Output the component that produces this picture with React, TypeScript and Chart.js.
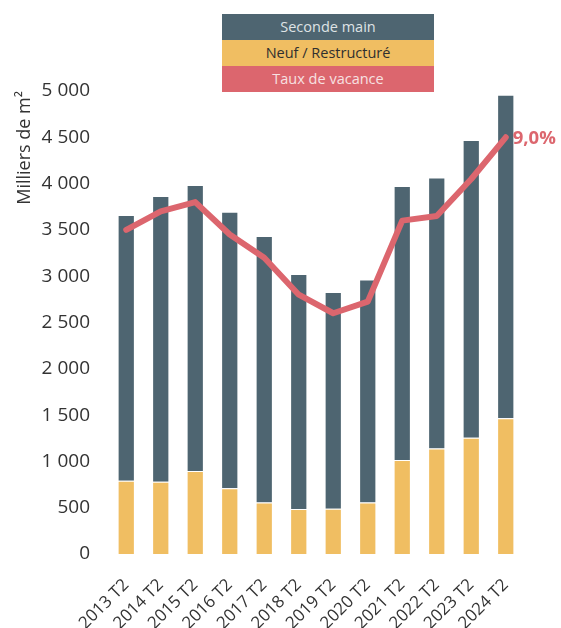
import React, { useEffect, useRef } from "react";
import { Chart, registerables } from "chart.js";

Chart.register(...registerables);

const categories = [
  "2013 T2", "2014 T2", "2015 T2", "2016 T2", "2017 T2", "2018 T2",
  "2019 T2", "2020 T2", "2021 T2", "2022 T2", "2023 T2", "2024 T2",
];
const neufRestructure = [790, 780, 895, 710, 555, 485, 490, 555, 1015, 1140, 1255, 1465];
const secondeMain = [2870, 3085, 3090, 2985, 2880, 2540, 2340, 2410, 2960, 2925, 3215, 3495];
const tauxVacance = [7.0, 7.4, 7.6, 6.9, 6.4, 5.6, 5.2, 5.45, 7.2, 7.3, 8.1, 9.0];
const yTicks = [0, 500, 1000, 1500, 2000, 2500, 3000, 3500, 4000, 4500, 5000];

const COLOR_DARK = "#4e6571";
const COLOR_YELLOW = "#f0be62";
const COLOR_RED = "#dc666e";
const FONT = "'Open Sans', sans-serif";

const formatThousands = (v: number) =>
  String(v).replace(/\B(?=(\d{3})+(?!\d))/g, " ");

const lastLabelPlugin = {
  id: "lastLabel",
  afterDatasetsDraw(chart: any) {
    const idx = chart.data.datasets.findIndex((d: any) => d.type === "line");
    if (idx < 0) return;
    const meta = chart.getDatasetMeta(idx);
    const pts = meta.data;
    const last = pts[pts.length - 1];
    const val = tauxVacance[tauxVacance.length - 1];
    const ctx = chart.ctx;
    ctx.save();
    ctx.font = `bold 18.5px ${FONT}`;
    ctx.fillStyle = COLOR_RED;
    ctx.textBaseline = "middle";
    ctx.textAlign = "left";
    ctx.fillText(val.toFixed(1).replace(".", ",") + "%", last.x + 7, last.y + 1);
    ctx.restore();
  },
};

export default function App() {
  const ref = useRef<HTMLCanvasElement | null>(null);

  useEffect(() => {
    if (!ref.current) return;
    const chart = new Chart(ref.current, {
      type: "bar",
      data: {
        labels: categories,
        datasets: [
          {
            type: "line",
            label: "Taux de vacance",
            data: tauxVacance,
            yAxisID: "y1",
            borderColor: COLOR_RED,
            backgroundColor: COLOR_RED,
            borderWidth: 6,
            pointRadius: 0,
            tension: 0,
            borderCapStyle: "round",
            borderJoinStyle: "round",
            order: 0,
          } as any,
          {
            type: "bar",
            label: "Neuf / Restructuré",
            data: neufRestructure,
            backgroundColor: COLOR_YELLOW,
            borderColor: "rgba(255,255,255,0.7)",
            borderWidth: 1,
            order: 1,
          },
          {
            type: "bar",
            label: "Seconde main",
            data: secondeMain,
            backgroundColor: COLOR_DARK,
            borderColor: "rgba(255,255,255,0.7)",
            borderWidth: 1,
            order: 1,
          },
        ],
      },
      options: {
        animation: false,
        responsive: true,
        maintainAspectRatio: false,
        layout: { padding: { top: 91, right: 38, bottom: 0, left: 0 } },
        datasets: { bar: { barPercentage: 0.5, categoryPercentage: 1 } },
        plugins: { legend: { display: false }, tooltip: { enabled: false } },
        scales: {
          x: {
            stacked: true,
            grid: { display: false, drawTicks: false },
            border: { display: false },
            afterFit: (scale: any) => {
              scale.height = 74;
              scale.paddingLeft = 0;
              scale.paddingRight = 0;
            },
            ticks: {
              color: "#333",
              font: { family: FONT, size: 17 },
              minRotation: 45,
              maxRotation: 45,
              autoSkip: false,
              padding: 21,
            },
          },
          y: {
            stacked: true,
            min: 0,
            max: 5000,
            afterBuildTicks: (scale: any) => {
              scale.ticks = yTicks.map((v) => ({ value: v }));
            },
            afterFit: (scale: any) => {
              scale.width = 109;
              scale.paddingTop = 0;
              scale.paddingBottom = 0;
            },
            grid: { display: false, drawTicks: false },
            border: { display: false },
            ticks: {
              color: "#333",
              font: { family: FONT, size: 19 },
              padding: 19,
              callback: (v: any) => formatThousands(Number(v)),
            },
            title: {
              display: true,
              text: "Milliers de m²",
              align: "end",
              color: "#333",
              font: { family: FONT, size: 18 },
              padding: { top: 14, bottom: 0 },
            },
          },
          y1: {
            display: false,
            min: 0,
            max: 10,
            stacked: false,
          },
        },
      },
      plugins: [lastLabelPlugin],
    });
    return () => chart.destroy();
  }, []);

  const legendRow = (text: string, bg: string, color: string) => (
    <div
      style={{
        height: 26,
        lineHeight: "26px",
        background: bg,
        color,
        textAlign: "center",
        fontFamily: FONT,
        fontSize: 14.5,
      }}
    >
      {text}
    </div>
  );

  return (
    <div style={{ position: "absolute", left: 0, top: 0, width: 561, height: 628, background: "#fff" }}>
      <canvas ref={ref} />
      <div style={{ position: "absolute", left: 222, top: 14, width: 212 }}>
        {legendRow("Seconde main", COLOR_DARK, "#dfe3e5")}
        {legendRow("Neuf / Restructuré", COLOR_YELLOW, "#2f2f2f")}
        {legendRow("Taux de vacance", COLOR_RED, "#f7e1e2")}
      </div>
    </div>
  );
}
